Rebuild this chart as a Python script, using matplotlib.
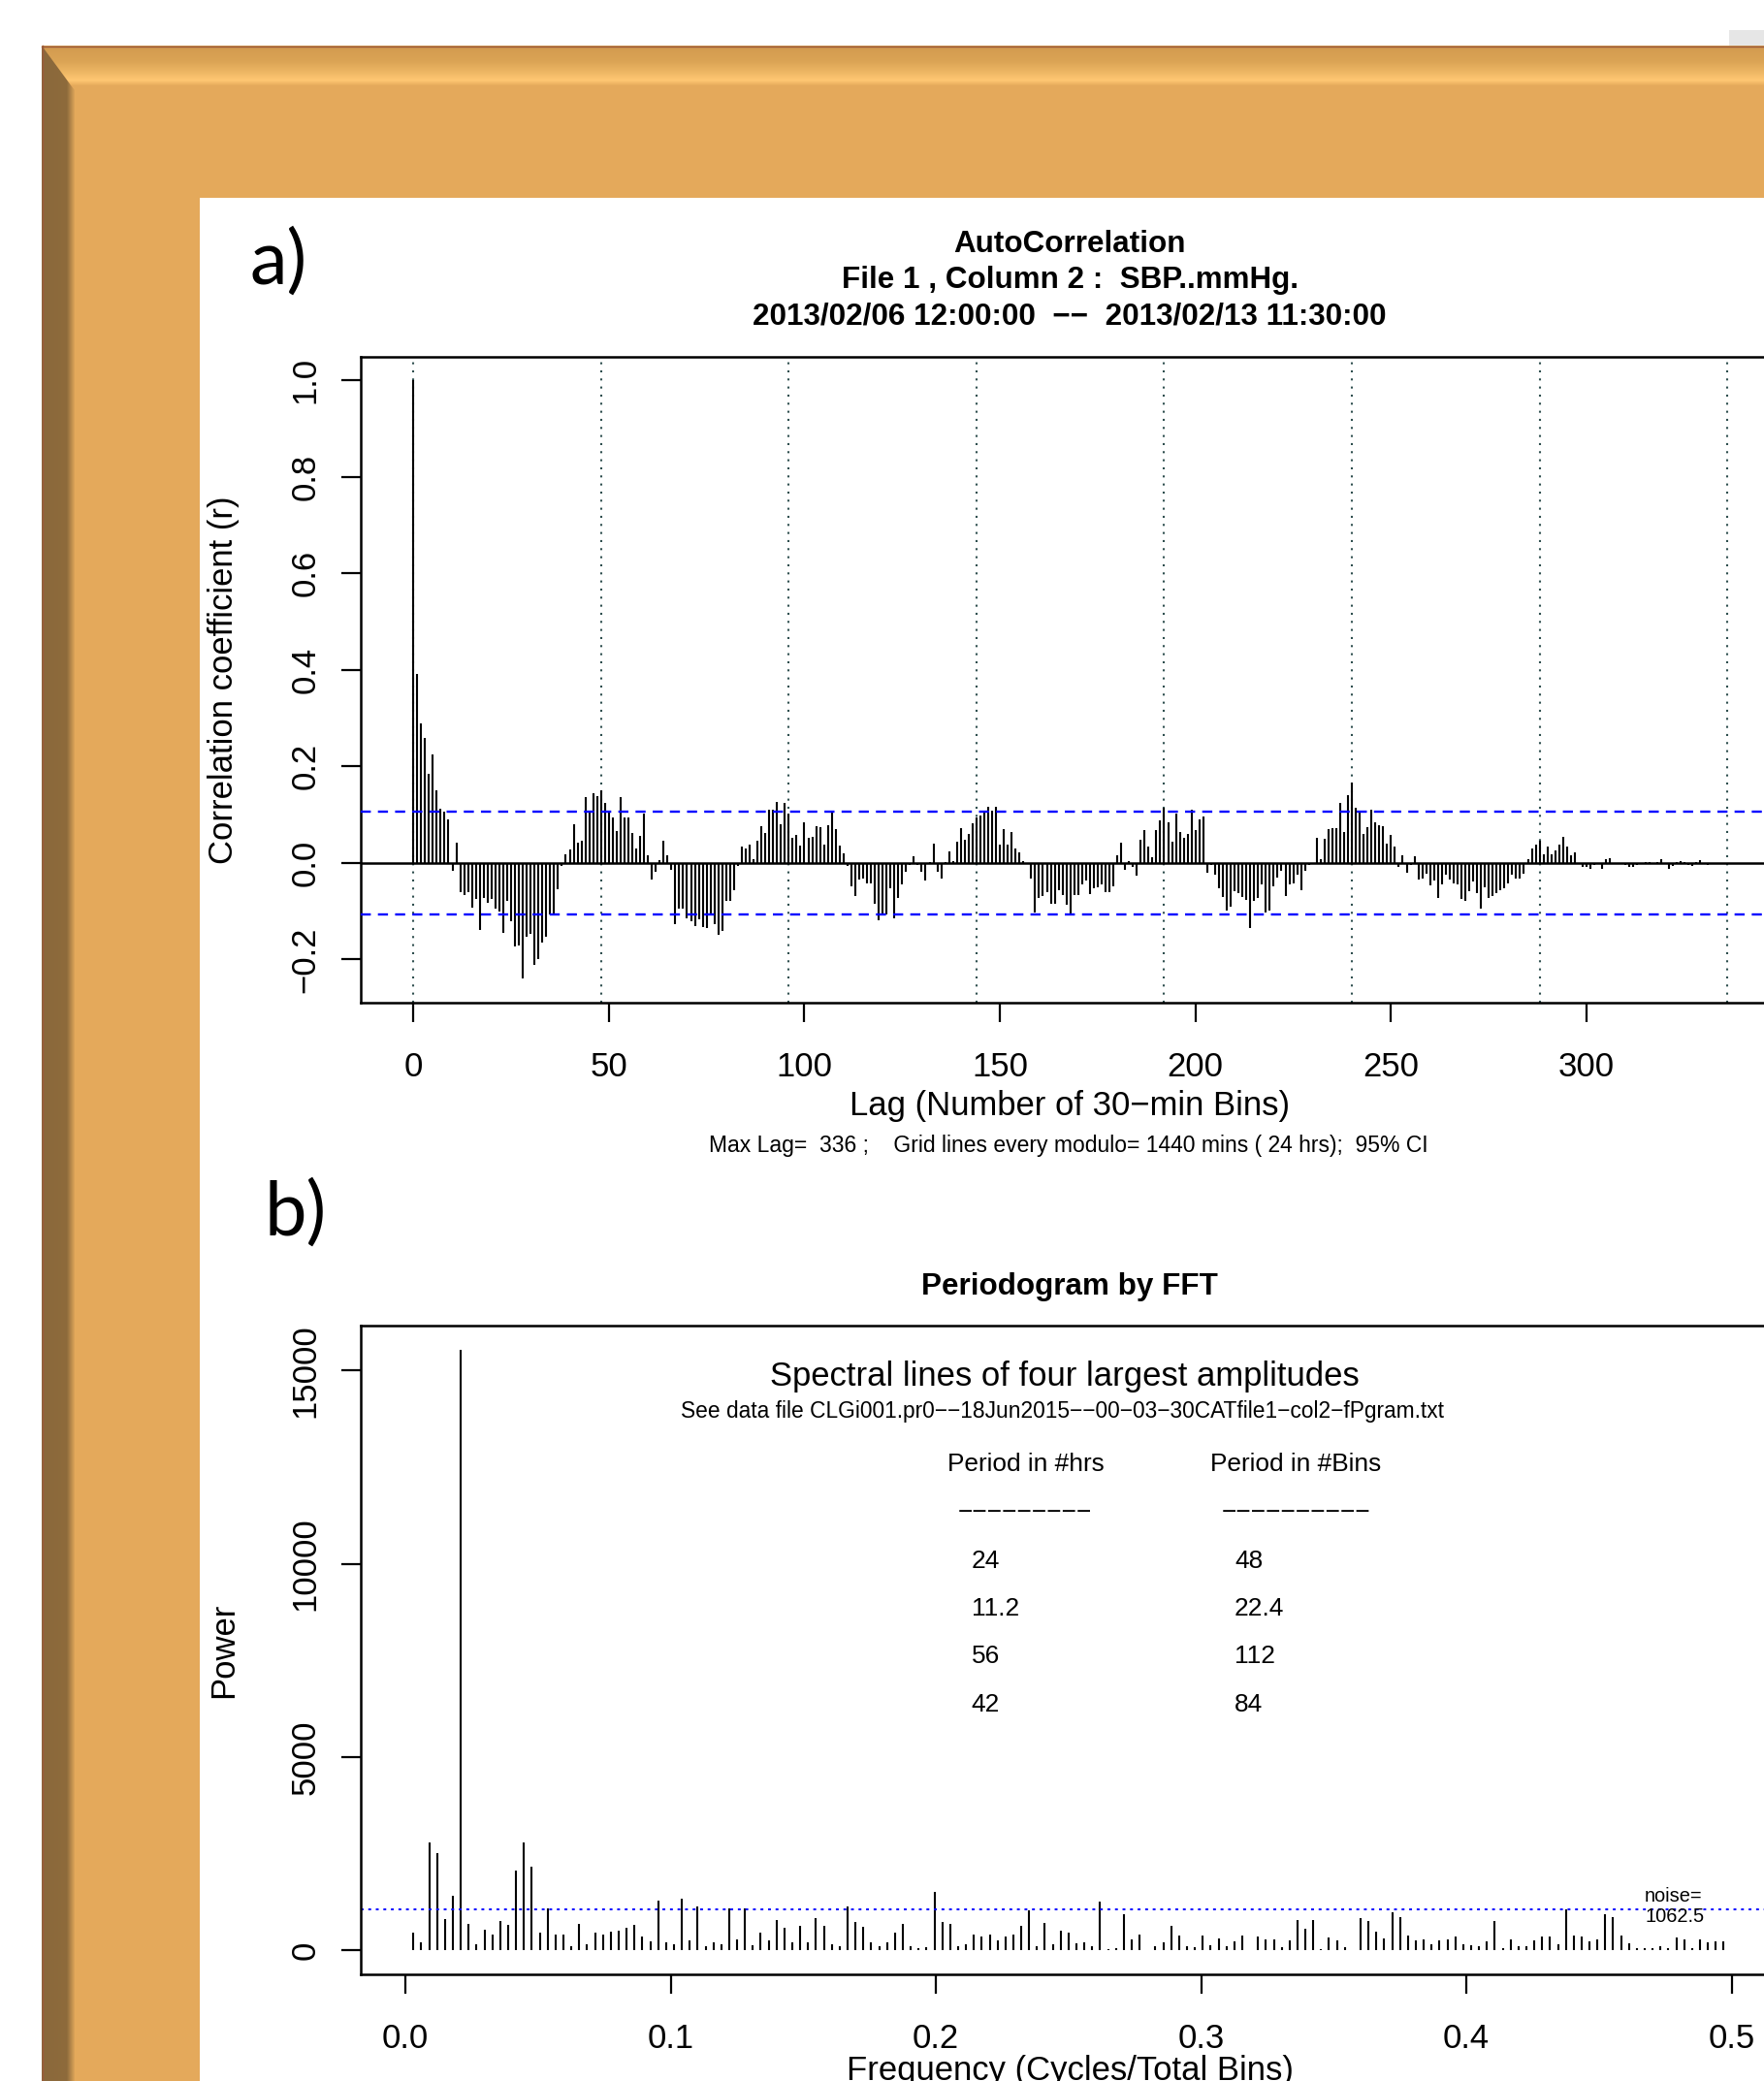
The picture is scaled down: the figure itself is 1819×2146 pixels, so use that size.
import matplotlib.pyplot as plt
import numpy as np
from matplotlib.patches import Polygon, Rectangle
from matplotlib.colors import LinearSegmentedColormap

plt.rcParams['font.family'] = ['Liberation Sans', 'DejaVu Sans']

# ---- data ----
# autocorrelation of SBP, lags 0..335 (30-min bins)
acf_0_59 = [1.0, 0.392, 0.290, 0.259, 0.185, 0.224, 0.150, 0.113, 0.106, 0.091,
            -0.016, 0.041, -0.060, -0.066, -0.060, -0.092, -0.074, -0.138, -0.072, -0.082,
            -0.074, -0.094, -0.100, -0.144, -0.079, -0.120, -0.174, -0.171, -0.240, -0.152,
            -0.146, -0.212, -0.200, -0.164, -0.152, -0.106, -0.106, -0.055, -0.007, 0.018,
            0.028, 0.080, 0.041, 0.047, 0.137, 0.108, 0.145, 0.138, 0.150, 0.125,
            0.107, 0.094, 0.067, 0.136, 0.094, 0.095, 0.063, 0.030, 0.057, 0.102]
acf_60_119 = [0.015, -0.035, -0.019, 0.005, 0.047, 0.015, -0.015, -0.127, -0.094, -0.094,
              -0.114, -0.120, -0.131, -0.116, -0.132, -0.134, -0.106, -0.126, -0.149, -0.140,
              -0.079, -0.079, -0.057, -0.007, 0.033, 0.030, 0.037, 0.008, 0.045, 0.077,
              0.063, 0.110, 0.110, 0.127, 0.080, 0.125, 0.102, 0.053, 0.058, 0.036,
              0.085, 0.053, 0.055, 0.077, 0.075, 0.037, 0.079, 0.108, 0.071, 0.035,
              0.020, -0.007, -0.049, -0.069, -0.035, -0.033, -0.042, -0.043, -0.084, -0.119]
acf_120_179 = [-0.104, -0.106, -0.052, -0.114, -0.072, -0.044, -0.019, -0.005, 0.013, -0.004,
               -0.019, -0.037, 0.001, 0.040, -0.019, -0.032, 0.001, 0.023, 0.003, 0.043,
               0.073, 0.048, 0.061, 0.082, 0.095, 0.098, 0.105, 0.116, 0.108, 0.116,
               0.038, 0.070, 0.037, 0.065, 0.030, 0.021, 0.003, -0.002, -0.032, -0.102,
               -0.072, -0.069, -0.060, -0.084, -0.084, -0.057, -0.067, -0.086, -0.107, -0.067,
               -0.067, -0.044, -0.037, -0.065, -0.053, -0.051, -0.044, -0.060, -0.060, -0.049]
acf_180_239 = [0.016, 0.041, -0.015, 0.004, -0.009, -0.027, 0.049, 0.069, 0.033, 0.011,
               0.069, 0.088, 0.114, 0.085, 0.043, 0.103, 0.065, 0.053, 0.061, 0.110,
               0.069, 0.090, 0.096, -0.020, -0.005, -0.025, -0.052, -0.071, -0.099, -0.091,
               -0.059, -0.062, -0.071, -0.077, -0.134, -0.079, -0.072, -0.045, -0.102, -0.098,
               -0.049, -0.030, -0.017, -0.069, -0.044, -0.042, -0.024, -0.057, -0.017, -0.005,
               -0.002, 0.053, 0.008, 0.050, 0.071, 0.073, 0.073, 0.125, 0.065, 0.140]
acf_240_299 = [0.167, 0.115, 0.108, 0.060, 0.075, 0.110, 0.084, 0.079, 0.077, 0.039,
               0.058, 0.033, -0.009, 0.015, -0.020, -0.005, 0.013, -0.035, -0.033, -0.022,
               -0.047, -0.037, -0.072, -0.045, -0.025, -0.035, -0.042, -0.045, -0.074, -0.079,
               -0.059, -0.039, -0.062, -0.094, -0.051, -0.073, -0.069, -0.062, -0.057, -0.052,
               -0.042, -0.024, -0.033, -0.033, -0.022, 0.008, 0.029, 0.038, 0.045, 0.017,
               0.033, 0.018, 0.025, 0.038, 0.055, 0.033, 0.015, 0.021, 0.0, -0.009]
acf_300_335 = [-0.009, -0.012, -0.005, -0.002, -0.012, 0.008, 0.009, 0.0, -0.002, -0.003,
               -0.004, -0.009, -0.009, -0.004, 0.0, 0.002, 0.001, 0.0, 0.002, 0.008,
               -0.003, -0.012, -0.006, 0.002, 0.003, 0.002, -0.004, -0.007, 0.001, 0.005,
               -0.003, -0.004, 0.0, -0.002, -0.002, 0.0]
acf = np.array(acf_0_59 + acf_60_119 + acf_120_179 + acf_180_239 + acf_240_299 + acf_300_335)
lags = np.arange(len(acf))
n_bins = 336
max_lag = 336
ci = 1.96 / np.sqrt(n_bins)
grid_every = 48

# periodogram power at frequency k/336, k = 1..167
power_1_40 = [469, 208, 2782, 2511, 802, 1407, 15545, 677, 156, 521,
              417, 750, 646, 2053, 2803, 2167, 469, 1094, 417, 417,
              104, 677, 156, 469, 417, 490, 500, 594, 646, 365,
              240, 1292, 208, 156, 1344, 260, 1146, 104, 208, 156]
power_41_84 = [1094, 281, 1094, 135, 469, 260, 781, 573, 208, 625,
               208, 834, 625, 156, 104, 1146, 729, 604, 208, 104,
               208, 469, 677, 104, 52, 73, 1511, 729, 677, 104,
               156, 417, 365, 417, 260, 365, 417, 625, 1042, 104,
               698, 156, 500, 469]
power_85_127 = [184, 209, 117, 1256, 42, 59, 937, 293, 402, 17,
                117, 201, 644, 385, 100, 84, 377, 134, 310, 100,
                243, 377, 17, 368, 293, 293, 84, 251, 795, 552,
                787, 42, 326, 268, 84, 17, 829, 753, 477, 310,
                979, 870, 393]
power_128_167 = [268, 293, 167, 268, 285, 368, 159, 134, 100, 243,
                 762, 59, 293, 100, 117, 251, 352, 352, 167, 1063,
                 377, 352, 226, 293, 937, 854, 393, 184, 59, 67,
                 59, 117, 59, 326, 293, 59, 285, 200, 220, 220]
power = np.array(power_1_40 + power_41_84 + power_85_127 + power_128_167)
freq = np.arange(1, len(power) + 1) / n_bins
noise = 1062.5

period_hrs = ['24', '11.2', '56', '42']
period_bins = ['48', '22.4', '112', '84']

# ---- figure ----
W, H = 1819, 2146
fig = plt.figure(figsize=(W / 100, H / 100), dpi=100)


def put(x, y, s, **kw):
    # place text by pixel position (origin top-left)
    fig.text(x / W, 1 - y / H, s, **kw)


# slide frame behind the plots
bg = fig.add_axes([0, 0, 1, 1])
bg.axis('off')
bg.add_patch(Rectangle((43, 47), W - 43, H - 47, facecolor='#e4a95b', edgecolor='none', zorder=0))

top_cmap = LinearSegmentedColormap.from_list(
    'top', [(0, '#d29a4f'), (0.4, '#dba455'), (0.7, '#f0b966'), (0.88, '#ffc773'), (1.0, '#e8ad5d')])
im = bg.imshow(np.linspace(0, 1, 80).reshape(-1, 1), cmap=top_cmap,
               extent=(43, W, 88, 47), aspect='auto', zorder=1)
im.set_clip_path(Polygon([(43, 47), (W, 47), (W, 88), (73, 88)], transform=bg.transData))

left_cmap = LinearSegmentedColormap.from_list(
    'left', [(0, '#8a683b'), (0.75, '#8e6b3c'), (1.0, '#e4a95b')])
im2 = bg.imshow(np.linspace(0, 1, 80).reshape(1, -1), cmap=left_cmap,
                extent=(43, 77, H, 47), aspect='auto', zorder=1)
im2.set_clip_path(Polygon([(43, 47), (73, 88), (77, 93), (77, H), (43, H)], transform=bg.transData))

bg.plot([43, W], [47.5, 47.5], color='#9c5a3c', lw=1.0, zorder=2)
bg.plot([43.5, 43.5], [47, H], color='#9c5a3c', lw=1.0, zorder=2)
bg.add_patch(Rectangle((206, 204), W - 206, H - 204, facecolor='white', edgecolor='none', zorder=3))
bg.add_patch(Rectangle((1783, 31), 36, 16, facecolor='#e6e6e6', edgecolor='none', zorder=3))
bg.set_xlim(0, W)
bg.set_ylim(H, 0)

tick_kw = dict(direction='out', length=14.4, width=1.6, labelsize=24.9, colors='black')

# ---- a) autocorrelation ----
ax1 = fig.add_axes([372 / W, 1 - 1034 / H, (1835.4 - 372) / W, (1034 - 367.6) / H])
lo, hi = acf.min(), acf.max()
ax1.set_xlim(-0.04 * max_lag, 1.04 * max_lag)
ax1.set_ylim(lo - 0.04 * (hi - lo), hi + 0.04 * (hi - lo))
for g in np.arange(0, max_lag + 1, grid_every):
    ax1.axvline(g, color='#2f4f4f', lw=1.5, ls=(0, (1, 3)), zorder=1)
ax1.vlines(lags, 0, acf, colors='black', lw=1.5, zorder=2)
ax1.axhline(0, color='black', lw=1.8, zorder=3)
for c in (ci, -ci):
    ax1.axhline(c, color='#0000ff', lw=1.7, ls=(0, (4.4, 3.1)), zorder=3)
ax1.set_xticks(np.arange(0, 301, 50))
yt = [-0.2, 0.0, 0.2, 0.4, 0.6, 0.8, 1.0]
ax1.set_yticks(yt)
ax1.set_yticklabels([f'{v:.1f}'.replace('-', '\u2212') for v in yt], rotation=90, va='center')
ax1.tick_params(axis='x', pad=21.3, **tick_kw)
ax1.tick_params(axis='y', pad=15, **tick_kw)
for s in ax1.spines.values():
    s.set_linewidth(1.8)

put(1103, 259.5, 'AutoCorrelation', ha='center', va='baseline', fontsize=22.6, fontweight='bold')
put(1103, 297, 'File 1 , Column 2 :  SBP..mmHg.', ha='center', va='baseline', fontsize=22.6, fontweight='bold')
put(1103, 334.5, '2013/02/06 12:00:00  \u2212\u2212  2013/02/13 11:30:00', ha='center', va='baseline',
    fontsize=22.6, fontweight='bold')
put(1103, 1150, 'Lag (Number of 30\u2212min Bins)', ha='center', va='baseline', fontsize=24.9)
put(1102, 1188, 'Max Lag=  336 ;    Grid lines every modulo= 1440 mins ( 24 hrs);  95% CI',
    ha='center', va='baseline', fontsize=16.5)
put(240, 701, 'Correlation coefficient (r)', rotation=90, rotation_mode='anchor',
    ha='center', va='baseline', fontsize=24.9)
put(257, 293, 'a)', ha='left', va='baseline', fontsize=56, family=['Lato', 'DejaVu Sans'])

# ---- b) periodogram ----
ax2 = fig.add_axes([372 / W, 1 - 2036 / H, (1840 - 372) / W, (2036 - 1367) / H])
pmax = power.max()
ax2.set_xlim(-0.0169, 0.5199)
ax2.set_ylim(-0.04 * pmax, 1.04 * pmax)
ax2.vlines(freq, 0, power, colors='black', lw=1.5)
ax2.axhline(noise, color='#0000ff', lw=1.4, ls=(0, (1.5, 2.5)))
ax2.set_xticks([0.0, 0.1, 0.2, 0.3, 0.4, 0.5])
ax2.set_xticklabels(['0.0', '0.1', '0.2', '0.3', '0.4', '0.5'])
ax2.set_yticks([0, 5000, 10000, 15000])
ax2.set_yticklabels(['0', '5000', '10000', '15000'], rotation=90, va='center')
ax2.tick_params(axis='x', pad=21.3, **tick_kw)
ax2.tick_params(axis='y', pad=15, **tick_kw)
for s in ax2.spines.values():
    s.set_linewidth(1.8)

put(1103, 1335, 'Periodogram by FFT', ha='center', va='baseline', fontsize=22.6, fontweight='bold')
put(240, 1701.5, 'Power', rotation=90, rotation_mode='anchor', ha='center', va='baseline', fontsize=24.9)
put(1103, 2145, 'Frequency (Cycles/Total Bins)', ha='center', va='baseline', fontsize=24.9)
put(272, 1274, 'b)', ha='left', va='baseline', fontsize=56, family=['Lato', 'DejaVu Sans'])

put(1098, 1429, 'Spectral lines of four largest amplitudes', ha='center', va='baseline', fontsize=24.9)
put(1095, 1462, 'See data file CLGi001.pr0\u2212\u221218Jun2015\u2212\u221200\u221203\u221230CATfile1\u2212col2\u2212fPgram.txt',
    ha='center', va='baseline', fontsize=16.4)
put(977, 1517, 'Period in #hrs', ha='left', va='baseline', fontsize=18.9)
put(1248, 1517, 'Period in #Bins', ha='left', va='baseline', fontsize=18.9)
put(988, 1567, '\u2212' * 9, ha='left', va='baseline', fontsize=18.9)
put(1260, 1567, '\u2212' * 10, ha='left', va='baseline', fontsize=18.9)
row_base = [1617, 1666, 1715, 1765]
for yb, ph, pb in zip(row_base, period_hrs, period_bins):
    put(1001.5, yb, ph, ha='left', va='baseline', fontsize=18.9)
    put(1273, yb, pb, ha='left', va='baseline', fontsize=18.9)
put(1696, 1961, 'noise=', ha='left', va='baseline', fontsize=14.4)
put(1696, 1982, '1062.5', ha='left', va='baseline', fontsize=14.4)

fig.savefig('out.png', dpi=100)
